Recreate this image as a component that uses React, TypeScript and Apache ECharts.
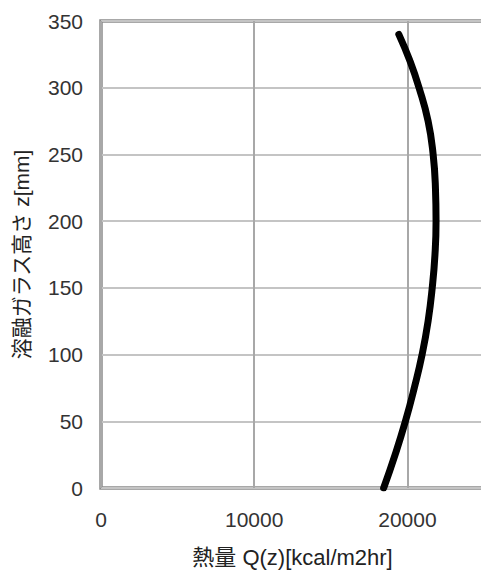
import React, { useEffect, useRef } from "react";
import * as echarts from "echarts";

const heightsMm = [0, 25, 50, 75, 100, 125, 150, 175, 200, 225, 250, 275, 300, 320, 340];
const heatQ = [18450, 19200, 19870, 20450, 20960, 21350, 21620, 21800, 21870, 21830, 21680, 21350, 20760, 20170, 19440];
const xName = "熱量 Q(z)[kcal/m2hr]";
const yName = "溶融ガラス高さ z[mm]";

export default function App() {
  const ref = useRef<HTMLDivElement>(null);
  useEffect(() => {
    if (!ref.current) return;
    const chart = echarts.init(ref.current, undefined, { renderer: "svg" });
    const font = "'Liberation Sans', Arial, 'Noto Sans CJK JP', sans-serif";
    chart.setOption({
      animation: false,
      backgroundColor: "#ffffff",
      grid: {
        left: 101,
        top: 21,
        height: 467,
        width: 383,
        outerBoundsMode: "none",
        containLabel: false,
        show: true,
        borderColor: "#8c8c8c",
        borderWidth: 3.5,
        backgroundColor: "transparent",
      },
      xAxis: {
        type: "value",
        min: 0,
        max: 25000,
        interval: 10000,
        name: xName,
        nameLocation: "middle",
        nameGap: 58,
        nameTextStyle: { fontSize: 22, color: "#222", fontFamily: font },
        axisLine: { show: false },
        axisTick: { show: false },
        axisLabel: {
          fontSize: 21,
          color: "#333",
          margin: 21,
          fontFamily: font,
          showMaxLabel: false,
          formatter: (v: number) => String(v),
        },
        splitLine: { show: true, lineStyle: { color: "#a8a8a8", width: 2 } },
      },
      yAxis: {
        type: "value",
        min: 0,
        max: 350,
        interval: 50,
        name: yName,
        nameLocation: "middle",
        nameGap: 69,
        nameTextStyle: { fontSize: 21, color: "#222", fontFamily: font },
        axisLine: { show: false },
        axisTick: { show: false },
        axisLabel: { fontSize: 21, color: "#333", margin: 18, fontFamily: font },
        splitLine: { show: true, lineStyle: { color: "#c4c4c4", width: 2 } },
      },
      series: [
        {
          type: "line",
          data: heightsMm.map((z, i) => [heatQ[i], z]),
          smooth: true,
          showSymbol: false,
          symbol: "none",
          lineStyle: { color: "#000", width: 7, cap: "round" },
        },
      ],
    });
    return () => chart.dispose();
  }, []);
  return (
    <div
      ref={ref}
      style={{ position: "fixed", left: 0, top: 0, width: 481, height: 574 }}
    />
  );
}
